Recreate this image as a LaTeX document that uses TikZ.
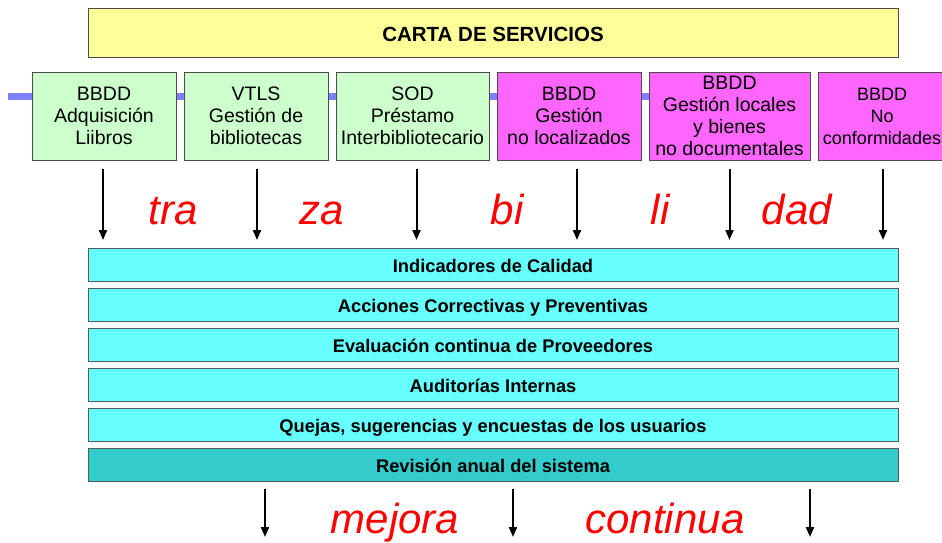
\documentclass[tikz,border=0pt]{standalone}
\usepackage{fontspec}
\setmainfont{Liberation Sans}
\usepackage{tikz}
\usetikzlibrary{arrows.meta}
\usetikzlibrary{chains,positioning,backgrounds}
\definecolor{cgreen}{HTML}{CCFFCC}
\definecolor{cmagenta}{HTML}{FF66FF}
\definecolor{ccyan}{HTML}{66FFFF}
\definecolor{cteal}{HTML}{33CCCC}
\definecolor{cyellow}{HTML}{FFFF99}
\definecolor{clink}{HTML}{8080FF}
\begin{document}
\begin{tikzpicture}[x=1pt,y=-1pt,
		S/.style = {rectangle, draw=black!70, line width=0.8pt, fill=#1,% boxes of the services
			minimum height=88pt, inner sep=2pt, outer sep=0pt,
			align=center, on chain},
		R/.style = {rectangle, draw=black!65, line width=0.8pt, fill=#1,% bars of the system
			minimum width=810pt, minimum height=33pt, inner sep=0pt, outer sep=0pt,
			text height=16pt, text depth=0pt,
			font=\bfseries\fontsize{18.3}{20}\selectfont, on chain},
		R/.default=ccyan,
		syl/.style = {text=red, font=\itshape\fontsize{42}{42}\selectfont,
			anchor=base, inner sep=0pt},
		arr/.style = {-{Triangle[length=10pt,width=8pt]}, line width=2pt},
		]
		\useasboundingbox (0,0) rectangle (942,542);
		\node[rectangle, draw=black!70, line width=0.8pt, fill=cyellow,
			minimum width=810pt, minimum height=49pt, text height=17pt, text depth=0pt,
			font=\bfseries\fontsize{20.5}{22}\selectfont] (carta) at (493,32.5) {CARTA DE SERVICIOS};
		% services
		\begin{scope}[start chain = T going right, node distance=8pt, shift={(104,116)}]
			\foreach \w/\c/\f/\t in {144/cgreen/19.5/{BBDD\\Adquisición\\Liibros},
				144/cgreen/19.5/{VTLS\\Gestión de\\bibliotecas},
				153/cgreen/19.5/{SOD\\Préstamo\\Interbibliotecario},
				144/cmagenta/19.5/{BBDD\\Gestión\\no localizados},
				161/cmagenta/19.5/{BBDD\\Gestión locales\\y bienes\\no documentales},
				128/cmagenta/18/{BBDD\\No\\conformidades}}
			\node[S=\c, minimum width=\w pt, font=\fontsize{\f}{22}\selectfont] {\t};
		\end{scope}
		\coordinate (lk) at (8,96);
		\begin{scope}[on background layer]
			\draw[clink, line width=7pt] (lk) -- (lk -| T-5.center);
		\end{scope}
		% quality system
		\begin{scope}[start chain = B going below, node distance=7pt, shift={(493,264.5)}]
			\foreach \t in {Indicadores de Calidad,
				Acciones Correctivas y Preventivas,
				Evaluación continua de Proveedores,
				Auditorías Internas,
				{Quejas, sugerencias y encuestas de los usuarios}}
			\node[R] {\t};
			\node[R=cteal] {Revisión anual del sistema};
		\end{scope}
		% arrows
		\foreach \i/\dx in {1/-1,2/1,3/4,4/8,5/0,6/1}
		\draw[arr, shorten <=9pt, shorten >=8pt] ([xshift=\dx pt]T-\i.south) -- ([xshift=\dx pt]T-\i.south |- B-1.north);
		\foreach \n/\x/\s in {1/173/tra,2/322/za,3/507/bi,4/660/li,5/797/dad}
		\node[syl] (syl\n) at (\x,224) {\s};
		\foreach \i/\x in {1/265,2/513,3/810}
		{
			\coordinate (e\i) at (\x,537);
			\draw[arr, shorten <=8pt] (B-6.south -| e\i) -- (e\i);
		}
		\node[syl] (mejora) at (395,533) {mejora};
		\node[syl] (continua) at (665,533) {continua};
	\end{tikzpicture}
\end{document}
